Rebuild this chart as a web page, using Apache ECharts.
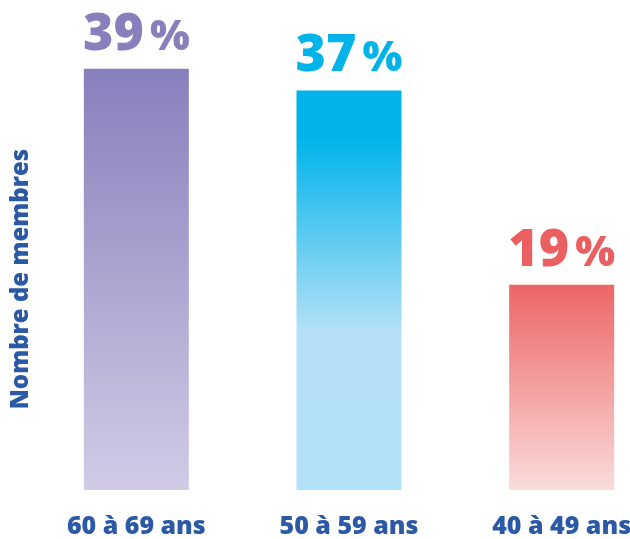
<!DOCTYPE html>
<html><head><meta charset="utf-8">
<script src="https://cdn.jsdelivr.net/npm/echarts@6/dist/echarts.min.js"></script>
<style>html,body{margin:0;padding:0;background:#fff;overflow:hidden}#c{width:668px;height:539px}</style>
</head><body><div id="c"></div>
<script>
const categories = ['60 à 69 ans', '50 à 59 ans', '40 à 49 ans'];
const values = [39, 37, 19];
const topColors = ['#8780bd', '#00b4ea', '#ec5f60'];
const gradients = [
  [[0, '#8780bd'], [1, '#d2cbe5']],
  [[0, '#00b4ea'], [0.12, '#00b4ea'], [0.6, '#b3e0f7'], [1, '#b3e2f8']],
  [[0, '#ed6565'], [1, '#fadcdc']]
];
const chart = echarts.init(document.getElementById('c'));
const font = '"Open Sans", "Noto Sans", sans-serif';
chart.setOption({
  animation: false,
  grid: { left: 30, right: 0, top: 4, bottom: 49 },
  xAxis: {
    type: 'category', data: categories,
    axisLine: { show: false }, axisTick: { show: false },
    axisLabel: { color: '#2b59a6', fontFamily: font, fontWeight: 800, fontSize: 25, margin: 24, letterSpacing: -0.9 }
  },
  yAxis: { type: 'value', min: 0, max: 45, show: false },
  graphic: [{
    type: 'text', x: 9, y: 279, rotation: Math.PI / 2,
    style: { text: 'Nombre de membres', fill: '#2b59a6', font: '800 24px ' + font, textAlign: 'center', textVerticalAlign: 'top' }
  }],
  series: [{
    type: 'bar', barWidth: 105,
    data: values.map((v, i) => ({
      value: v,
      itemStyle: { color: new echarts.graphic.LinearGradient(0, 0, 0, 1, gradients[i].map(s => ({ offset: s[0], color: s[1] }))) },
      label: {
        rich: {
          n: { color: topColors[i], fontSize: 52, fontWeight: 800, fontFamily: font },
          p: { color: topColors[i], fontSize: 42, fontWeight: 800, fontFamily: font, padding: [6, 0, 0, 6] }
        }
      }
    })),
    label: {
      show: true, position: 'top', distance: 8,
      formatter: p => '{n|' + p.value + '}{p|%}'
    }
  }]
});
</script></body></html>
